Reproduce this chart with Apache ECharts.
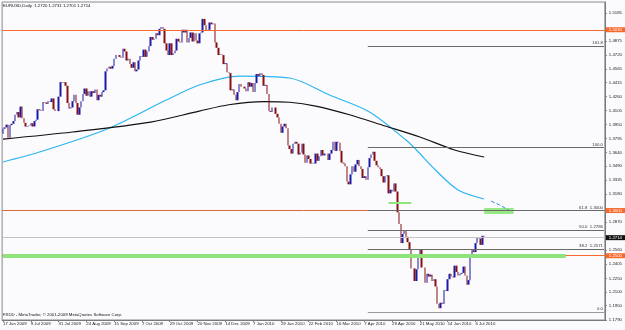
<!DOCTYPE html>
<html><head><meta charset="utf-8">
<script src="https://cdn.jsdelivr.net/npm/echarts@6/dist/echarts.min.js"></script>
<style>html,body{margin:0;padding:0;background:#fbfafd}#c{width:625px;height:330px}</style>
</head><body><div id="c"></div>
<script>
// [open, close, low, high] per daily bar, 17 Jun 2009 .. Jul 2010
const ohlc = [
[1.3850,1.3905,1.3815,1.3960],[1.3905,1.3920,1.3850,1.3950],[1.3920,1.3950,1.3860,1.4000],[1.3950,1.3805,1.3780,1.3965],[1.3805,1.3945,1.3790,1.3960],
[1.3945,1.3960,1.3900,1.4025],[1.3960,1.3990,1.3875,1.4010],[1.3990,1.4060,1.3960,1.4090],[1.4060,1.4090,1.4020,1.4150],[1.4090,1.4030,1.3985,1.4125],
[1.4030,1.4150,1.4010,1.4200],[1.4150,1.4020,1.3985,1.4165],[1.4020,1.3970,1.3940,1.4040],[1.3970,1.3930,1.3880,1.3990],[1.3930,1.3935,1.3890,1.4010],
[1.3935,1.3940,1.3855,1.3975],[1.3940,1.3965,1.3920,1.4035],[1.3965,1.3930,1.3880,1.4010],[1.3930,1.3990,1.3880,1.4020],[1.3990,1.4005,1.3935,1.4050],
[1.4005,1.4120,1.3985,1.4150],[1.4120,1.4110,1.4070,1.4160],[1.4110,1.4100,1.4050,1.4160],[1.4100,1.4200,1.4085,1.4230],[1.4200,1.4195,1.4140,1.4230],
[1.4195,1.4180,1.4125,1.4220],[1.4180,1.4210,1.4110,1.4240],[1.4210,1.4200,1.4130,1.4220],[1.4200,1.4240,1.4160,1.4270],[1.4240,1.4120,1.4090,1.4260],
[1.4120,1.4100,1.4020,1.4140],[1.4100,1.4100,1.4040,1.4150],[1.4100,1.4260,1.4070,1.4270],[1.4260,1.4420,1.4250,1.4450],[1.4420,1.4410,1.4350,1.4445],
[1.4410,1.4420,1.4350,1.4450],[1.4420,1.4380,1.4340,1.4445],[1.4380,1.4190,1.4170,1.4440],[1.4190,1.4130,1.4100,1.4220],[1.4130,1.4140,1.4080,1.4180],
[1.4140,1.4210,1.4090,1.4280],[1.4210,1.4280,1.4190,1.4300],[1.4280,1.4190,1.4175,1.4300],[1.4190,1.4060,1.4045,1.4200],[1.4060,1.4140,1.4050,1.4160],
[1.4140,1.4210,1.4070,1.4230],[1.4210,1.4290,1.4190,1.4310],[1.4290,1.4350,1.4260,1.4380],[1.4350,1.4270,1.4240,1.4370],[1.4270,1.4320,1.4220,1.4340],
[1.4320,1.4260,1.4220,1.4350],[1.4260,1.4320,1.4200,1.4340],[1.4320,1.4300,1.4280,1.4390],[1.4300,1.4340,1.4260,1.4360],[1.4340,1.4220,1.4190,1.4370],
[1.4220,1.4280,1.4200,1.4310],[1.4280,1.4260,1.4210,1.4320],[1.4260,1.4310,1.4220,1.4340],[1.4310,1.4330,1.4290,1.4360],[1.4330,1.4540,1.4320,1.4550],
[1.4540,1.4570,1.4500,1.4600],[1.4570,1.4590,1.4530,1.4620],[1.4590,1.4570,1.4550,1.4630],[1.4570,1.4600,1.4540,1.4640],[1.4600,1.4680,1.4590,1.4700],
[1.4680,1.4720,1.4650,1.4740],[1.4720,1.4720,1.4690,1.4770],[1.4720,1.4700,1.4660,1.4740],[1.4700,1.4690,1.4600,1.4720],[1.4690,1.4790,1.4680,1.4800],
[1.4790,1.4760,1.4720,1.4845],[1.4760,1.4660,1.4630,1.4770],[1.4660,1.4680,1.4630,1.4720],[1.4680,1.4620,1.4580,1.4700],[1.4620,1.4580,1.4550,1.4640],
[1.4580,1.4640,1.4540,1.4670],[1.4640,1.4540,1.4520,1.4680],[1.4540,1.4560,1.4480,1.4600],[1.4560,1.4660,1.4540,1.4690],[1.4660,1.4710,1.4640,1.4760],
[1.4710,1.4700,1.4660,1.4760],[1.4700,1.4780,1.4680,1.4800],[1.4780,1.4700,1.4690,1.4800],[1.4700,1.4760,1.4680,1.4790],[1.4760,1.4820,1.4720,1.4850],
[1.4820,1.4920,1.4800,1.4930],[1.4920,1.4890,1.4850,1.4960],[1.4890,1.4900,1.4850,1.4940],[1.4900,1.4960,1.4850,1.4970],[1.4960,1.4940,1.4860,1.4990],
[1.4940,1.5010,1.4930,1.5060],[1.5010,1.5030,1.4940,1.5060],[1.5030,1.5010,1.4990,1.5060],[1.5010,1.4850,1.4830,1.5040],[1.4850,1.4770,1.4750,1.4880],
[1.4770,1.4720,1.4690,1.4800],[1.4720,1.4850,1.4710,1.4870],[1.4850,1.4720,1.4700,1.4860],[1.4720,1.4740,1.4700,1.4800],[1.4740,1.4770,1.4670,1.4790],
[1.4770,1.4900,1.4760,1.4930],[1.4900,1.4870,1.4820,1.4910],[1.4870,1.4860,1.4820,1.4920],[1.4860,1.5000,1.4850,1.5010],[1.5000,1.4970,1.4940,1.5020],
[1.4970,1.5000,1.4960,1.5030],[1.5000,1.4860,1.4830,1.5010],[1.4860,1.4910,1.4850,1.4960],[1.4910,1.4970,1.4900,1.5010],[1.4970,1.4870,1.4830,1.4980],
[1.4870,1.4960,1.4860,1.4970],[1.4960,1.4880,1.4830,1.4960],[1.4880,1.4850,1.4800,1.4900],[1.4850,1.4960,1.4840,1.5000],[1.4960,1.4970,1.4920,1.5000],
[1.4970,1.5120,1.4960,1.5145],[1.5120,1.5050,1.4950,1.5125],[1.5050,1.4990,1.4830,1.5070],[1.4990,1.5000,1.4960,1.5060],[1.5000,1.5080,1.4990,1.5110],
[1.5080,1.5060,1.5030,1.5100],[1.5060,1.5070,1.5030,1.5120],[1.5070,1.4860,1.4830,1.5100],[1.4860,1.4800,1.4780,1.4890],[1.4800,1.4720,1.4700,1.4850],
[1.4720,1.4730,1.4680,1.4800],[1.4730,1.4720,1.4690,1.4780],[1.4720,1.4620,1.4610,1.4750],[1.4620,1.4630,1.4580,1.4690],[1.4630,1.4530,1.4520,1.4640],
[1.4530,1.4520,1.4490,1.4590],[1.4520,1.4330,1.4320,1.4530],[1.4330,1.4340,1.4250,1.4380],[1.4340,1.4280,1.4270,1.4380],[1.4280,1.4220,1.4220,1.4310],
[1.4220,1.4310,1.4220,1.4330],[1.4310,1.4400,1.4300,1.4410],[1.4400,1.4370,1.4340,1.4410],[1.4370,1.4370,1.4340,1.4450],[1.4370,1.4350,1.4290,1.4400],
[1.4350,1.4320,1.4310,1.4390],[1.4320,1.4420,1.4260,1.4450],[1.4420,1.4370,1.4340,1.4480],[1.4370,1.4410,1.4340,1.4440],[1.4410,1.4310,1.4260,1.4420],
[1.4310,1.4410,1.4270,1.4450],[1.4410,1.4510,1.4410,1.4530],[1.4510,1.4490,1.4460,1.4540],[1.4490,1.4520,1.4420,1.4580],[1.4520,1.4500,1.4450,1.4550],
[1.4500,1.4380,1.4370,1.4530],[1.4380,1.4390,1.4350,1.4410],[1.4390,1.4290,1.4280,1.4400],[1.4290,1.4100,1.4090,1.4300],[1.4100,1.4090,1.4030,1.4140],
[1.4090,1.4140,1.4080,1.4180],[1.4140,1.4140,1.4110,1.4180],[1.4140,1.4070,1.4040,1.4180],[1.4070,1.4030,1.4000,1.4100],[1.4030,1.3960,1.3940,1.4050],
[1.3960,1.3860,1.3850,1.4010],[1.3860,1.3930,1.3850,1.3940],[1.3930,1.3960,1.3900,1.3990],[1.3960,1.3910,1.3880,1.3990],[1.3910,1.3720,1.3690,1.3920],
[1.3720,1.3680,1.3580,1.3740],[1.3680,1.3630,1.3600,1.3720],[1.3630,1.3740,1.3620,1.3800],[1.3740,1.3760,1.3700,1.3790],[1.3760,1.3740,1.3660,1.3810],
[1.3740,1.3620,1.3570,1.3740],[1.3620,1.3640,1.3580,1.3690],[1.3640,1.3740,1.3600,1.3780],[1.3740,1.3620,1.3600,1.3770],[1.3620,1.3530,1.3510,1.3640],
[1.3530,1.3610,1.3440,1.3640],[1.3610,1.3570,1.3540,1.3640],[1.3570,1.3520,1.3510,1.3640],[1.3520,1.3530,1.3480,1.3580],[1.3530,1.3520,1.3450,1.3560],
[1.3520,1.3630,1.3510,1.3660],[1.3630,1.3550,1.3520,1.3640],[1.3550,1.3600,1.3530,1.3620],[1.3600,1.3670,1.3580,1.3700],[1.3670,1.3610,1.3580,1.3690],
[1.3610,1.3630,1.3540,1.3660],[1.3630,1.3630,1.3580,1.3680],[1.3630,1.3560,1.3540,1.3640],[1.3560,1.3630,1.3540,1.3650],[1.3630,1.3670,1.3600,1.3690],
[1.3670,1.3760,1.3660,1.3780],[1.3760,1.3660,1.3630,1.3760],[1.3660,1.3760,1.3640,1.3780],[1.3760,1.3750,1.3720,1.3810],[1.3750,1.3660,1.3640,1.3770],
[1.3660,1.3530,1.3500,1.3680],[1.3530,1.3520,1.3440,1.3560],[1.3520,1.3490,1.3470,1.3550],[1.3490,1.3320,1.3300,1.3510],[1.3320,1.3290,1.3270,1.3440],
[1.3290,1.3400,1.3280,1.3420],[1.3400,1.3490,1.3390,1.3510],[1.3490,1.3430,1.3400,1.3520],[1.3430,1.3510,1.3420,1.3540],[1.3510,1.3560,1.3500,1.3600],
[1.3560,1.3490,1.3460,1.3570],[1.3490,1.3460,1.3440,1.3530],[1.3460,1.3360,1.3340,1.3480],[1.3360,1.3380,1.3330,1.3420],[1.3380,1.3340,1.3290,1.3400],
[1.3340,1.3480,1.3320,1.3500],[1.3480,1.3580,1.3470,1.3690],[1.3580,1.3620,1.3530,1.3650],[1.3620,1.3650,1.3580,1.3690],[1.3650,1.3550,1.3520,1.3660],
[1.3550,1.3500,1.3440,1.3570],[1.3500,1.3480,1.3430,1.3550],[1.3480,1.3460,1.3420,1.3520],[1.3460,1.3380,1.3360,1.3480],[1.3380,1.3310,1.3260,1.3400],
[1.3310,1.3380,1.3300,1.3400],[1.3380,1.3390,1.3360,1.3450],[1.3390,1.3190,1.3180,1.3420],[1.3190,1.3230,1.3110,1.3250],[1.3230,1.3210,1.3170,1.3290],
[1.3210,1.3300,1.3200,1.3340],[1.3300,1.3210,1.3190,1.3330],[1.3210,1.2980,1.2970,1.3220],[1.2980,1.2850,1.2810,1.3000],[1.2850,1.2640,1.2520,1.2870],
[1.2640,1.2740,1.2590,1.2800],[1.2740,1.2780,1.2740,1.3094],[1.2780,1.2710,1.2600,1.2800],[1.2710,1.2650,1.2580,1.2730],[1.2650,1.2570,1.2530,1.2660],
[1.2570,1.2360,1.2350,1.2580],[1.2360,1.2360,1.2230,1.2380],[1.2360,1.2220,1.2200,1.2440],[1.2220,1.2350,1.2143,1.2360],[1.2350,1.2500,1.2300,1.2540],
[1.2500,1.2570,1.2410,1.2675],[1.2570,1.2370,1.2350,1.2580],[1.2370,1.2370,1.2230,1.2400],[1.2370,1.2200,1.2160,1.2400],[1.2200,1.2300,1.2180,1.2380],
[1.2300,1.2270,1.2230,1.2380],[1.2270,1.2290,1.2260,1.2330],[1.2290,1.2220,1.2110,1.2330],[1.2220,1.2240,1.2180,1.2290],[1.2240,1.2160,1.2150,1.2280],
[1.2160,1.1970,1.1950,1.2190],[1.1970,1.1920,1.1876,1.2000],[1.1920,1.1980,1.1880,1.1990],[1.1980,1.1970,1.1940,1.2070],[1.1970,1.2120,1.1960,1.2130],
[1.2120,1.2110,1.2060,1.2160],[1.2110,1.2240,1.2100,1.2300],[1.2240,1.2300,1.2180,1.2330],[1.2300,1.2270,1.2240,1.2350],[1.2270,1.2260,1.2210,1.2330],
[1.2260,1.2390,1.2250,1.2400],[1.2390,1.2320,1.2300,1.2440],[1.2320,1.2280,1.2260,1.2370],[1.2280,1.2300,1.2240,1.2320],[1.2300,1.2310,1.2270,1.2360],
[1.2310,1.2380,1.2290,1.2390],[1.2380,1.2280,1.2270,1.2390],[1.2280,1.2180,1.2150,1.2300],[1.2180,1.2230,1.2170,1.2270],[1.2230,1.2520,1.2210,1.2540],
[1.2520,1.2560,1.2500,1.2600],[1.2560,1.2540,1.2510,1.2590],[1.2540,1.2640,1.2510,1.2670],[1.2640,1.2700,1.2600,1.2720],[1.2700,1.2690,1.2660,1.2730],
[1.2690,1.2620,1.2545,1.2700],[1.2620,1.2720,1.2600,1.2740],[1.2720,1.2714,1.2701,1.2731]
];
const totalSlots = 347;            // bar slots shown incl. empty right margin
const xTickLabels = ['17 Jun 2009','9 Jul 2009','31 Jul 2009','24 Aug 2009','15 Sep 2009','7 Oct 2009','29 Oct 2009','20 Nov 2009','14 Dec 2009','7 Jan 2010','29 Jan 2010','22 Feb 2010','16 Mar 2010','7 Apr 2010','29 Apr 2010','21 May 2010','14 Jun 2010','6 Jul 2010'];
const xTickEvery = 16;
const yTickValues = [1.5185,1.4875,1.4720,1.4565,1.4415,1.4260,1.4105,1.3950,1.3795,1.3640,1.3490,1.3335,1.3180,1.2870,1.2560,1.2405,1.2250,1.2100,1.1950,1.1790];
const yMin = 1.1789, yMax = 1.5307;
// moving averages read at sparse bars: [barIndex, value]
const maBlue = [[0,1.3537],[21,1.3647],[60,1.3902],[94,1.4222],[113,1.4389],[136,1.4488],[165,1.4466],[188,1.4278],[211,1.4090],[232,1.3780],[238,1.3670],[249,1.3448],[262,1.3227],[277,1.3128]];
const maBlack = [[0,1.3791],[40,1.3869],[85,1.3979],[113,1.4100],[130,1.4170],[150,1.4205],[165,1.4198],[180,1.4156],[200,1.4057],[220,1.3935],[240,1.3813],[260,1.3670],[277,1.3592]];
const maBlueProjection = [[281,1.3105],[286,1.3061],[291,1.3006]];
// horizontal levels
const orangeLevels = [1.5030, 1.3000, 1.2500];
const currentPrice = 1.2714;
const fibStartBar = 210;
const fibLevels = [[0.0,1.1876],[38.2,1.2571],[50.0,1.2786],[61.8,1.3000],[100.0,1.3695],[161.8,1.4819]];
const greenSupport = {value:1.2500, from:0, to:324};
const greenShort = {value:1.3083, from:222, to:235};
const greenBox = {from:277, to:294, low:1.2962, high:1.3028};
const titleText = 'EURUSD,Daily  1.2720 1.2731 1.2701 1.2714';
const footerText = 'FXDD - MetaTrader, \u00a9 2001-2009 MetaQuotes Software Corp.';

const cats = Array.from({length: totalSlots}, (_, i) => String(i));
const wickData = ohlc.map(d => [d[2], d[3], d[2], d[3]]);
const bodyData = ohlc.map(d => [d[0], d[1], Math.min(d[0], d[1]), Math.max(d[0], d[1])]);

const F = 'Liberation Sans';
const fs = 4.3;
const orange = '#f8692c';
const lastBar = totalSlots - 1;

const markLines = [];
orangeLevels.forEach(v => markLines.push({
  yAxis: v, lineStyle: {color: v === 1.3 ? '#d86a3c' : orange, width: 1, type: 'solid'},
  label: {show: true, position: 'end', distance: 1, formatter: v.toFixed(4), color: '#fff', backgroundColor: orange, fontSize: fs, fontFamily: F, padding: [1, 3, 0, 3]}
}));
markLines.push({
  yAxis: currentPrice, lineStyle: {color: '#c4c4c4', width: 1, type: 'solid'},
  label: {show: true, position: 'end', distance: 1, formatter: currentPrice.toFixed(4), color: '#fff', backgroundColor: '#111', fontSize: fs, fontFamily: F, padding: [1, 3, 0, 3]}
});
markLines.push([
  {coord: [greenSupport.from, greenSupport.value], lineStyle: {color: '#8fe47c', width: 4, type: 'solid'}, label: {show: false}},
  {coord: [greenSupport.to, greenSupport.value]}
]);
markLines.push([
  {coord: [greenShort.from, greenShort.value], lineStyle: {color: '#8fe47c', width: 2, type: 'solid'}, label: {show: false}},
  {coord: [greenShort.to, greenShort.value]}
]);
fibLevels.forEach(([pct, v]) => {
  const txt = (pct === 38.2 || pct === 50 || pct === 61.8) ? pct.toFixed(1) + '  ' + v.toFixed(4) : pct.toFixed(1);
  markLines.push([
    {coord: [fibStartBar, v], lineStyle: {color: pct === 0 ? '#9a9a9a' : '#6a6a6a', width: 1, type: 'solid'},
     label: {show: true, position: 'insideEndTop', distance: [1, 1], formatter: txt, color: '#333', fontSize: fs, fontFamily: F}},
    {coord: [lastBar, v]}
  ]);
});

const chart = echarts.init(document.getElementById('c'), null, {renderer: 'canvas'});
chart.setOption({
  animation: false,
  backgroundColor: '#fbfafd',
  title: [
    {text: titleText, left: 3, top: 4, textStyle: {fontSize: fs, fontWeight: 'normal', color: '#111', fontFamily: F}, padding: 0},
    {text: footerText, left: 3, top: 313, textStyle: {fontSize: fs, fontWeight: 'normal', color: '#111', fontFamily: F}, padding: 0}
  ],
  grid: {left: 2, right: 18, top: 2, bottom: 10, show: true, borderColor: '#8a8a8a', borderWidth: 1, backgroundColor: 'transparent'},
  xAxis: {
    type: 'category', data: cats, boundaryGap: true,
    axisLine: {lineStyle: {color: '#7a7a7a'}},
    axisTick: {show: true, length: 2, interval: i => i % xTickEvery === 0 && i / xTickEvery < xTickLabels.length, alignWithLabel: true, lineStyle: {color: '#7a7a7a'}},
    axisLabel: {
      interval: i => i % xTickEvery === 0 && i / xTickEvery < xTickLabels.length,
      formatter: (v, i) => xTickLabels[i / xTickEvery] || '',
      align: 'left', margin: 2, fontSize: fs, color: '#222', fontFamily: F
    },
    splitLine: {show: false}
  },
  yAxis: {
    type: 'value', position: 'right', min: yMin, max: yMax, scale: true,
    axisLine: {show: true, lineStyle: {color: '#7a7a7a'}},
    axisTick: {show: true, length: 2, customValues: yTickValues, lineStyle: {color: '#7a7a7a'}},
    axisLabel: {customValues: yTickValues, formatter: v => v.toFixed(4), fontSize: fs, color: '#222', margin: 4, fontFamily: F},
    splitLine: {show: false}
  },
  series: [
    {
      name: 'range', type: 'candlestick', data: wickData, barWidth: 1,
      itemStyle: {color: '#7c7c7c', color0: '#7c7c7c', borderColor: '#7c7c7c', borderColor0: '#7c7c7c', borderWidth: 0},
      markLine: {symbol: ['none', 'none'], silent: true, animation: false, data: markLines},
      markArea: {silent: true, itemStyle: {color: '#98e886'}, data: [[{coord: [greenBox.from, greenBox.high]}, {coord: [greenBox.to, greenBox.low]}]]},
      z: 3
    },
    {
      name: 'body', type: 'candlestick', data: bodyData, barWidth: 2,
      itemStyle: {color: '#1a1aa8', color0: '#861010', borderColor: '#1a1aa8', borderColor0: '#861010', borderWidth: 0},
      z: 4
    },
    {name: 'maBlue', type: 'line', data: maBlue, smooth: 0.3, symbol: 'none', lineStyle: {color: '#2cb6f0', width: 1.2}, z: 2},
    {name: 'maBlack', type: 'line', data: maBlack, smooth: 0.3, symbol: 'none', lineStyle: {color: '#111', width: 1.2}, z: 2},
    {name: 'proj', type: 'line', data: maBlueProjection, symbol: 'rect', symbolSize: 2, itemStyle: {color: '#2a6ef0'}, lineStyle: {color: '#2a8ef0', width: 1, type: 'dashed'}, z: 5}
  ]
});
</script></body></html>
